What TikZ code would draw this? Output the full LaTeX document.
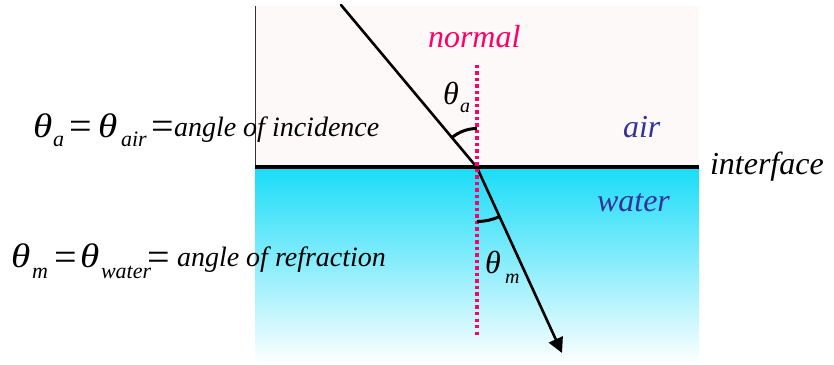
\documentclass[tikz,border=0pt]{standalone}
\usepackage{graphicx}
\usepackage{fontspec}
\setmainfont{Liberation Serif}
\usetikzlibrary{arrows.meta}
\definecolor{pinkn}{HTML}{FF0066}
\definecolor{navyt}{HTML}{333399}
\definecolor{airfill}{HTML}{FDF9F8}
\definecolor{cyanw}{HTML}{1ADCF8}
\begin{document}
\begin{tikzpicture}[x=1pt,y=1pt,
  txt/.style={inner sep=0pt, outer sep=0pt, anchor=base west},
  eqtxt/.style={txt, font=\fontsize{28}{30}\selectfont\itshape},
  eqsign/.style={txt, font=\fontsize{40}{40}\selectfont},
  eqtheta/.style={txt, font=\fontsize{34}{34}\selectfont\itshape},
  eqsub/.style={txt, font=\fontsize{22}{22}\selectfont\itshape},
  dtheta/.style={txt, font=\fontsize{32}{32}\selectfont\itshape},
  dsub/.style={txt, font=\fontsize{20}{20}\selectfont\itshape},
  biglbl/.style={txt, font=\fontsize{32}{34}\selectfont\itshape},
  ray/.style={line width=2.6pt, line cap=round},
  anglearc/.style={line width=3pt},
  normalline/.style={pinkn, line width=3.3pt, dash pattern=on 3.3pt off 3.2pt}]
\useasboundingbox (0,0) rectangle (834,364);
% regions
\fill[airfill] (255,197) rectangle (699,358);
\shade[top color=cyanw, bottom color=white] (255,0) rectangle (699,196);
\draw[line width=0.7pt, black!80] (255,358) -- (255,197);
% coordinates
\coordinate (O) at (477,196.5);
\coordinate (ifL) at (255,196.5);
\coordinate (ifR) at (699,196.5);
\coordinate (nT) at (477,299);
\coordinate (nB) at (477,27);
\coordinate (inS) at (341,359);
\coordinate (refE) at (562,11);
% interface
\draw[line width=4pt] (ifL) -- (ifR);
% rays
\draw[ray] (inS) -- (O);
\draw[ray, line cap=butt, -{Triangle[length=15pt, width=15pt]}] (O) -- (refE);
% normal
\draw[normalline] (nT) -- (nB);
% angle arcs
\draw[anglearc] ([shift={(0,39)}]O) arc[start angle=90, end angle=130, radius=39];
\draw[anglearc] ([shift={(0,-54)}]O) arc[start angle=-90, end angle=-65.4, radius=54];
% diagram labels
\node[biglbl, text=pinkn] (lnormal) at (428,316) {normal};
\node[biglbl, text=navyt] (lair) at (623,226) {air};
\node[biglbl, text=navyt] (lwater) at (597,152) {water};
\node[biglbl] (linterface) at (710,189) {interface};
\node[dtheta] (lthA) at (443,259) {θ};
\node[dsub] (lthAs) at (460,251) {a};
\node[dtheta] (lthM) at (485,91) {θ};
\node[dsub] (lthMs) at (505,81) {m};
% equation: incidence
\node[eqtheta] (ta) at (33,226) {\scalebox{1.15}[1]{θ}};
\node[eqsub] (tas) at (53,217) {a};
\node[eqsign] (eqA) at (69,224) {=};
\node[eqtheta] (tair) at (98,226) {\scalebox{1.15}[1]{θ}};
\node[eqsub] (tairs) at (121,217) {air};
\node[eqsign] (eqB) at (151,224) {=};
\node[eqtxt] (inc) at (174,227) {angle of incidence};
% equation: refraction
\node[eqtheta] (tm) at (11,96) {\scalebox{1.15}[1]{θ}};
\node[eqsub] (tms) at (32,86) {m};
\node[eqsign] (eqC) at (54,94) {=};
\node[eqtheta] (twat) at (80,96) {\scalebox{1.15}[1]{θ}};
\node[eqsub] (twats) at (101,86) {water};
\node[eqsign] (eqD) at (147,94) {=};
\node[eqtxt] (refr) at (177,97) {angle of refraction};
\end{tikzpicture}
\end{document}
